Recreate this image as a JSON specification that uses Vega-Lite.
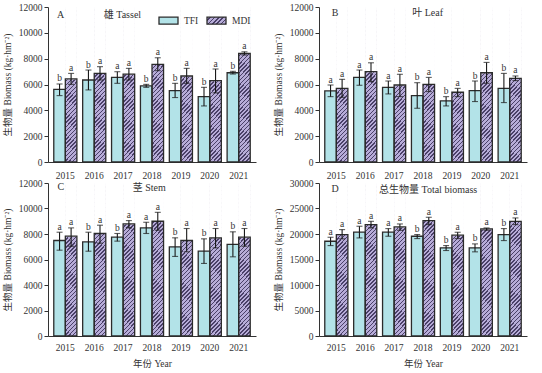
{
"$schema":"https://vega.github.io/schema/vega-lite/v6.json",
"background":"white",
"padding":{"left":2,"top":2,"right":2,"bottom":2},
"params":[
{"name":"hatch","value":{"gradient":"linear","x1":0,"y1":0,"x2":0.0861,"y2":1.0733,"stops":[
{"offset":0,"color":"#b7acd8"},{"offset":0.016,"color":"#b7acd8"},{"offset":0.016,"color":"#4a4068"},{"offset":0.025,"color":"#4a4068"},
{"offset":0.025,"color":"#b7acd8"},{"offset":0.041,"color":"#b7acd8"},{"offset":0.041,"color":"#4a4068"},{"offset":0.05,"color":"#4a4068"},
{"offset":0.05,"color":"#b7acd8"},{"offset":0.066,"color":"#b7acd8"},{"offset":0.066,"color":"#4a4068"},{"offset":0.075,"color":"#4a4068"},
{"offset":0.075,"color":"#b7acd8"},{"offset":0.091,"color":"#b7acd8"},{"offset":0.091,"color":"#4a4068"},{"offset":0.1,"color":"#4a4068"},
{"offset":0.1,"color":"#b7acd8"},{"offset":0.116,"color":"#b7acd8"},{"offset":0.116,"color":"#4a4068"},{"offset":0.125,"color":"#4a4068"},
{"offset":0.125,"color":"#b7acd8"},{"offset":0.141,"color":"#b7acd8"},{"offset":0.141,"color":"#4a4068"},{"offset":0.15,"color":"#4a4068"},
{"offset":0.15,"color":"#b7acd8"},{"offset":0.166,"color":"#b7acd8"},{"offset":0.166,"color":"#4a4068"},{"offset":0.175,"color":"#4a4068"},
{"offset":0.175,"color":"#b7acd8"},{"offset":0.191,"color":"#b7acd8"},{"offset":0.191,"color":"#4a4068"},{"offset":0.2,"color":"#4a4068"},
{"offset":0.2,"color":"#b7acd8"},{"offset":0.216,"color":"#b7acd8"},{"offset":0.216,"color":"#4a4068"},{"offset":0.225,"color":"#4a4068"},
{"offset":0.225,"color":"#b7acd8"},{"offset":0.241,"color":"#b7acd8"},{"offset":0.241,"color":"#4a4068"},{"offset":0.25,"color":"#4a4068"},
{"offset":0.25,"color":"#b7acd8"},{"offset":0.266,"color":"#b7acd8"},{"offset":0.266,"color":"#4a4068"},{"offset":0.275,"color":"#4a4068"},
{"offset":0.275,"color":"#b7acd8"},{"offset":0.291,"color":"#b7acd8"},{"offset":0.291,"color":"#4a4068"},{"offset":0.3,"color":"#4a4068"},
{"offset":0.3,"color":"#b7acd8"},{"offset":0.316,"color":"#b7acd8"},{"offset":0.316,"color":"#4a4068"},{"offset":0.325,"color":"#4a4068"},
{"offset":0.325,"color":"#b7acd8"},{"offset":0.341,"color":"#b7acd8"},{"offset":0.341,"color":"#4a4068"},{"offset":0.35,"color":"#4a4068"},
{"offset":0.35,"color":"#b7acd8"},{"offset":0.366,"color":"#b7acd8"},{"offset":0.366,"color":"#4a4068"},{"offset":0.375,"color":"#4a4068"},
{"offset":0.375,"color":"#b7acd8"},{"offset":0.391,"color":"#b7acd8"},{"offset":0.391,"color":"#4a4068"},{"offset":0.4,"color":"#4a4068"},
{"offset":0.4,"color":"#b7acd8"},{"offset":0.416,"color":"#b7acd8"},{"offset":0.416,"color":"#4a4068"},{"offset":0.425,"color":"#4a4068"},
{"offset":0.425,"color":"#b7acd8"},{"offset":0.441,"color":"#b7acd8"},{"offset":0.441,"color":"#4a4068"},{"offset":0.45,"color":"#4a4068"},
{"offset":0.45,"color":"#b7acd8"},{"offset":0.466,"color":"#b7acd8"},{"offset":0.466,"color":"#4a4068"},{"offset":0.475,"color":"#4a4068"},
{"offset":0.475,"color":"#b7acd8"},{"offset":0.491,"color":"#b7acd8"},{"offset":0.491,"color":"#4a4068"},{"offset":0.5,"color":"#4a4068"},
{"offset":0.5,"color":"#b7acd8"},{"offset":0.516,"color":"#b7acd8"},{"offset":0.516,"color":"#4a4068"},{"offset":0.525,"color":"#4a4068"},
{"offset":0.525,"color":"#b7acd8"},{"offset":0.541,"color":"#b7acd8"},{"offset":0.541,"color":"#4a4068"},{"offset":0.55,"color":"#4a4068"},
{"offset":0.55,"color":"#b7acd8"},{"offset":0.566,"color":"#b7acd8"},{"offset":0.566,"color":"#4a4068"},{"offset":0.575,"color":"#4a4068"},
{"offset":0.575,"color":"#b7acd8"},{"offset":0.591,"color":"#b7acd8"},{"offset":0.591,"color":"#4a4068"},{"offset":0.6,"color":"#4a4068"},
{"offset":0.6,"color":"#b7acd8"},{"offset":0.616,"color":"#b7acd8"},{"offset":0.616,"color":"#4a4068"},{"offset":0.625,"color":"#4a4068"},
{"offset":0.625,"color":"#b7acd8"},{"offset":0.641,"color":"#b7acd8"},{"offset":0.641,"color":"#4a4068"},{"offset":0.65,"color":"#4a4068"},
{"offset":0.65,"color":"#b7acd8"},{"offset":0.666,"color":"#b7acd8"},{"offset":0.666,"color":"#4a4068"},{"offset":0.675,"color":"#4a4068"},
{"offset":0.675,"color":"#b7acd8"},{"offset":0.691,"color":"#b7acd8"},{"offset":0.691,"color":"#4a4068"},{"offset":0.7,"color":"#4a4068"},
{"offset":0.7,"color":"#b7acd8"},{"offset":0.716,"color":"#b7acd8"},{"offset":0.716,"color":"#4a4068"},{"offset":0.725,"color":"#4a4068"},
{"offset":0.725,"color":"#b7acd8"},{"offset":0.741,"color":"#b7acd8"},{"offset":0.741,"color":"#4a4068"},{"offset":0.75,"color":"#4a4068"},
{"offset":0.75,"color":"#b7acd8"},{"offset":0.766,"color":"#b7acd8"},{"offset":0.766,"color":"#4a4068"},{"offset":0.775,"color":"#4a4068"},
{"offset":0.775,"color":"#b7acd8"},{"offset":0.791,"color":"#b7acd8"},{"offset":0.791,"color":"#4a4068"},{"offset":0.8,"color":"#4a4068"},
{"offset":0.8,"color":"#b7acd8"},{"offset":0.816,"color":"#b7acd8"},{"offset":0.816,"color":"#4a4068"},{"offset":0.825,"color":"#4a4068"},
{"offset":0.825,"color":"#b7acd8"},{"offset":0.841,"color":"#b7acd8"},{"offset":0.841,"color":"#4a4068"},{"offset":0.85,"color":"#4a4068"},
{"offset":0.85,"color":"#b7acd8"},{"offset":0.866,"color":"#b7acd8"},{"offset":0.866,"color":"#4a4068"},{"offset":0.875,"color":"#4a4068"},
{"offset":0.875,"color":"#b7acd8"},{"offset":0.891,"color":"#b7acd8"},{"offset":0.891,"color":"#4a4068"},{"offset":0.9,"color":"#4a4068"},
{"offset":0.9,"color":"#b7acd8"},{"offset":0.916,"color":"#b7acd8"},{"offset":0.916,"color":"#4a4068"},{"offset":0.925,"color":"#4a4068"},
{"offset":0.925,"color":"#b7acd8"},{"offset":0.941,"color":"#b7acd8"},{"offset":0.941,"color":"#4a4068"},{"offset":0.95,"color":"#4a4068"},
{"offset":0.95,"color":"#b7acd8"},{"offset":0.966,"color":"#b7acd8"},{"offset":0.966,"color":"#4a4068"},{"offset":0.975,"color":"#4a4068"},
{"offset":0.975,"color":"#b7acd8"},{"offset":0.991,"color":"#b7acd8"},{"offset":0.991,"color":"#4a4068"},{"offset":1,"color":"#4a4068"}
]}},
{"name":"hatchLeg","value":{"gradient":"linear","x1":0,"y1":0,"x2":1.2049,"y2":0.4439,"stops":[
{"offset":0,"color":"#b7acd8"},{"offset":0.1067,"color":"#b7acd8"},{"offset":0.1067,"color":"#4a4068"},{"offset":0.1667,"color":"#4a4068"},
{"offset":0.1667,"color":"#b7acd8"},{"offset":0.2733,"color":"#b7acd8"},{"offset":0.2733,"color":"#4a4068"},{"offset":0.3333,"color":"#4a4068"},
{"offset":0.3333,"color":"#b7acd8"},{"offset":0.44,"color":"#b7acd8"},{"offset":0.44,"color":"#4a4068"},{"offset":0.5,"color":"#4a4068"},
{"offset":0.5,"color":"#b7acd8"},{"offset":0.6067,"color":"#b7acd8"},{"offset":0.6067,"color":"#4a4068"},{"offset":0.6667,"color":"#4a4068"},
{"offset":0.6667,"color":"#b7acd8"},{"offset":0.7733,"color":"#b7acd8"},{"offset":0.7733,"color":"#4a4068"},{"offset":0.8333,"color":"#4a4068"},
{"offset":0.8333,"color":"#b7acd8"},{"offset":0.94,"color":"#b7acd8"},{"offset":0.94,"color":"#4a4068"},{"offset":1,"color":"#4a4068"}
]}}
],
"data":{"values":[
{"Part":"Tassel","Year":"2015","Group":"TFI","Value":5630,"Lo":5140,"Hi":6040,"Sig":"b"},
{"Part":"Tassel","Year":"2015","Group":"MDI","Value":6430,"Lo":6010,"Hi":6860,"Sig":"a"},
{"Part":"Tassel","Year":"2016","Group":"TFI","Value":6350,"Lo":5580,"Hi":7120,"Sig":"b"},
{"Part":"Tassel","Year":"2016","Group":"MDI","Value":6860,"Lo":6350,"Hi":7380,"Sig":"a"},
{"Part":"Tassel","Year":"2017","Group":"TFI","Value":6550,"Lo":6090,"Hi":6990,"Sig":"a"},
{"Part":"Tassel","Year":"2017","Group":"MDI","Value":6810,"Lo":6350,"Hi":7250,"Sig":"a"},
{"Part":"Tassel","Year":"2018","Group":"TFI","Value":5890,"Lo":5780,"Hi":6010,"Sig":"b"},
{"Part":"Tassel","Year":"2018","Group":"MDI","Value":7560,"Lo":7070,"Hi":8070,"Sig":"a"},
{"Part":"Tassel","Year":"2019","Group":"TFI","Value":5530,"Lo":4990,"Hi":6090,"Sig":"b"},
{"Part":"Tassel","Year":"2019","Group":"MDI","Value":6660,"Lo":6090,"Hi":7250,"Sig":"a"},
{"Part":"Tassel","Year":"2020","Group":"TFI","Value":5060,"Lo":4340,"Hi":5780,"Sig":"b"},
{"Part":"Tassel","Year":"2020","Group":"MDI","Value":6300,"Lo":5350,"Hi":7200,"Sig":"a"},
{"Part":"Tassel","Year":"2021","Group":"TFI","Value":6910,"Lo":6810,"Hi":7020,"Sig":"b"},
{"Part":"Tassel","Year":"2021","Group":"MDI","Value":8400,"Lo":8280,"Hi":8530,"Sig":"a"},
{"Part":"Leaf","Year":"2015","Group":"TFI","Value":5500,"Lo":5060,"Hi":5960,"Sig":"a"},
{"Part":"Leaf","Year":"2015","Group":"MDI","Value":5700,"Lo":5010,"Hi":6400,"Sig":"a"},
{"Part":"Leaf","Year":"2016","Group":"TFI","Value":6550,"Lo":5940,"Hi":7120,"Sig":"a"},
{"Part":"Leaf","Year":"2016","Group":"MDI","Value":6990,"Lo":6220,"Hi":7680,"Sig":"a"},
{"Part":"Leaf","Year":"2017","Group":"TFI","Value":5780,"Lo":5270,"Hi":6270,"Sig":"a"},
{"Part":"Leaf","Year":"2017","Group":"MDI","Value":5960,"Lo":5060,"Hi":6790,"Sig":"a"},
{"Part":"Leaf","Year":"2018","Group":"TFI","Value":5140,"Lo":4160,"Hi":6140,"Sig":"b"},
{"Part":"Leaf","Year":"2018","Group":"MDI","Value":6010,"Lo":5450,"Hi":6550,"Sig":"a"},
{"Part":"Leaf","Year":"2019","Group":"TFI","Value":4730,"Lo":4340,"Hi":5060,"Sig":"b"},
{"Part":"Leaf","Year":"2019","Group":"MDI","Value":5400,"Lo":5060,"Hi":5700,"Sig":"a"},
{"Part":"Leaf","Year":"2020","Group":"TFI","Value":5530,"Lo":4680,"Hi":6270,"Sig":"b"},
{"Part":"Leaf","Year":"2020","Group":"MDI","Value":6910,"Lo":6090,"Hi":7710,"Sig":"a"},
{"Part":"Leaf","Year":"2021","Group":"TFI","Value":5700,"Lo":4600,"Hi":6860,"Sig":"b"},
{"Part":"Leaf","Year":"2021","Group":"MDI","Value":6480,"Lo":6300,"Hi":6660,"Sig":"a"},
{"Part":"Stem","Year":"2015","Group":"TFI","Value":7490,"Lo":6730,"Hi":8140,"Sig":"a"},
{"Part":"Stem","Year":"2015","Group":"MDI","Value":7830,"Lo":7040,"Hi":8480,"Sig":"a"},
{"Part":"Stem","Year":"2016","Group":"TFI","Value":7380,"Lo":6650,"Hi":8140,"Sig":"b"},
{"Part":"Stem","Year":"2016","Group":"MDI","Value":8040,"Lo":7280,"Hi":8690,"Sig":"a"},
{"Part":"Stem","Year":"2017","Group":"TFI","Value":7750,"Lo":7440,"Hi":8040,"Sig":"b"},
{"Part":"Stem","Year":"2017","Group":"MDI","Value":8790,"Lo":8480,"Hi":9050,"Sig":"a"},
{"Part":"Stem","Year":"2018","Group":"TFI","Value":8480,"Lo":8040,"Hi":8920,"Sig":"a"},
{"Part":"Stem","Year":"2018","Group":"MDI","Value":9000,"Lo":8300,"Hi":9700,"Sig":"a"},
{"Part":"Stem","Year":"2019","Group":"TFI","Value":6990,"Lo":6240,"Hi":7700,"Sig":"b"},
{"Part":"Stem","Year":"2019","Group":"MDI","Value":7490,"Lo":6600,"Hi":8430,"Sig":"a"},
{"Part":"Stem","Year":"2020","Group":"TFI","Value":6650,"Lo":5690,"Hi":7620,"Sig":"b"},
{"Part":"Stem","Year":"2020","Group":"MDI","Value":7700,"Lo":6910,"Hi":8430,"Sig":"a"},
{"Part":"Stem","Year":"2021","Group":"TFI","Value":7180,"Lo":6210,"Hi":8170,"Sig":"b"},
{"Part":"Stem","Year":"2021","Group":"MDI","Value":7750,"Lo":7040,"Hi":8430,"Sig":"a"},
{"Part":"Total","Year":"2015","Group":"TFI","Value":18580,"Lo":17730,"Hi":19360,"Sig":"a"},
{"Part":"Total","Year":"2015","Group":"MDI","Value":19890,"Lo":19040,"Hi":20860,"Sig":"a"},
{"Part":"Total","Year":"2016","Group":"TFI","Value":20350,"Lo":19230,"Hi":21520,"Sig":"a"},
{"Part":"Total","Year":"2016","Group":"MDI","Value":21850,"Lo":21190,"Hi":22490,"Sig":"a"},
{"Part":"Total","Year":"2017","Group":"TFI","Value":20350,"Lo":19560,"Hi":21060,"Sig":"a"},
{"Part":"Total","Year":"2017","Group":"MDI","Value":21390,"Lo":20730,"Hi":21970,"Sig":"a"},
{"Part":"Total","Year":"2018","Group":"TFI","Value":19560,"Lo":19100,"Hi":19890,"Sig":"b"},
{"Part":"Total","Year":"2018","Group":"MDI","Value":22620,"Lo":21840,"Hi":23280,"Sig":"a"},
{"Part":"Total","Year":"2019","Group":"TFI","Value":17280,"Lo":16760,"Hi":17730,"Sig":"b"},
{"Part":"Total","Year":"2019","Group":"MDI","Value":19760,"Lo":19100,"Hi":20340,"Sig":"a"},
{"Part":"Total","Year":"2020","Group":"TFI","Value":17280,"Lo":16500,"Hi":18060,"Sig":"b"},
{"Part":"Total","Year":"2020","Group":"MDI","Value":20990,"Lo":20730,"Hi":21190,"Sig":"a"},
{"Part":"Total","Year":"2021","Group":"TFI","Value":19890,"Lo":18710,"Hi":21060,"Sig":"b"},
{"Part":"Total","Year":"2021","Group":"MDI","Value":22490,"Lo":21840,"Hi":23150,"Sig":"a"}
]},
"columns":2,
"spacing":{"row":-2,"column":17},
"resolve":{"scale":{"fill":"independent"},"legend":{"fill":"independent"}},
"concat":[
{"width":208,"height":155,
"transform":[{"filter":"datum.Part === 'Tassel'"}],
"layer":[
{"transform":[{"filter":"datum.Group === 'MDI'"}],"mark":{"type":"bar","fill":{"expr":"hatch"},"stroke":"transparent","strokeWidth":0},
"encoding":{"x":{"field":"Year","type":"nominal","axis":{"title":null,"labelAngle":0,"ticks":false,"labelPadding":8}},"xOffset":{"field":"Group","type":"nominal","scale":{"domain":["TFI","MDI"]}},"y":{"datum":12000,"type":"quantitative","scale":{"domain":[0,12000],"nice":false},"axis":{"title":"生物量 Biomass (kg·hm⁻²)","values":[0,2000,4000,6000,8000,10000,12000],"format":"d","tickSize":4,"labelPadding":2,"titlePadding":6}},"y2":{"datum":0}}},
{"transform":[{"filter":"datum.Group === 'MDI'"}],"mark":{"type":"bar","fill":"white","stroke":"white","strokeWidth":1},
"encoding":{"x":{"field":"Year","type":"nominal"},"xOffset":{"field":"Group","type":"nominal","scale":{"domain":["TFI","MDI"]}},"y":{"field":"Value","type":"quantitative","stack":null,"scale":{"domain":[0,12000],"nice":false}},"y2":{"datum":12000}}},
{"mark":{"type":"bar"},
"encoding":{"x":{"field":"Year","type":"nominal","axis":{"title":null,"labelAngle":0,"ticks":false,"labelPadding":8}},
"xOffset":{"field":"Group","type":"nominal","scale":{"domain":["TFI","MDI"]}},
"y":{"field":"Value","type":"quantitative","stack":null,"scale":{"domain":[0,12000],"nice":false},"axis":{"title":"生物量 Biomass (kg·hm⁻²)","values":[0,2000,4000,6000,8000,10000,12000],"format":"d","tickSize":4,"labelPadding":2,"titlePadding":6}},
"fill":{"condition":{"test":"datum.Group === 'MDI'","value":"rgba(0,0,0,0)"},"field":"Group","type":"nominal","scale":{"domain":["TFI","MDI"],"range":["#b3e3e8",{"expr":"hatchLeg"}]},
"legend":{"orient":"none","legendX":110,"legendY":3,"direction":"horizontal","title":null,"padding":0,"symbolType":"M-1,-0.37H1V0.37H-1Z","symbolSize":361,"symbolOpacity":1,"symbolStrokeColor":"#2b2b2b","symbolStrokeWidth":1.2,"labelFont":"Liberation Serif","labelFontSize":9.5,"labelColor":"#333","labelOffset":5,"columnPadding":5}}}},
{"mark":{"type":"rule"},"encoding":{"x":{"field":"Year","type":"nominal"},"xOffset":{"field":"Group","type":"nominal","scale":{"domain":["TFI","MDI"]}},"y":{"field":"Lo","type":"quantitative","scale":{"domain":[0,12000],"nice":false}},"y2":{"field":"Hi"}}},
{"mark":{"type":"tick","orient":"horizontal","size":6,"thickness":1.1},"encoding":{"x":{"field":"Year","type":"nominal"},"xOffset":{"field":"Group","type":"nominal","scale":{"domain":["TFI","MDI"]}},"y":{"field":"Lo","type":"quantitative","scale":{"domain":[0,12000],"nice":false}}}},
{"mark":{"type":"tick","orient":"horizontal","size":6,"thickness":1.1},"encoding":{"x":{"field":"Year","type":"nominal"},"xOffset":{"field":"Group","type":"nominal","scale":{"domain":["TFI","MDI"]}},"y":{"field":"Hi","type":"quantitative","scale":{"domain":[0,12000],"nice":false}}}},
{"mark":{"type":"text","baseline":"alphabetic","dy":-2.5},"encoding":{"x":{"field":"Year","type":"nominal"},"xOffset":{"field":"Group","type":"nominal","scale":{"domain":["TFI","MDI"]}},"y":{"field":"Hi","type":"quantitative","scale":{"domain":[0,12000],"nice":false}},"text":{"field":"Sig"}}},
{"transform":[{"filter":"datum.Year === '2015' && datum.Group === 'TFI'"}],"mark":{"type":"text","text":"A","fontSize":10,"baseline":"middle"},"encoding":{"x":{"datum":"2015","bandPosition":0.3},"y":{"datum":11380,"type":"quantitative"}}},
{"transform":[{"filter":"datum.Year === '2015' && datum.Group === 'TFI'"}],"mark":{"type":"text","text":"雄 Tassel","fontSize":10,"baseline":"middle"},"encoding":{"x":{"datum":"2017","bandPosition":0.47},"y":{"datum":11380,"type":"quantitative"}}}
]},
{"width":208,"height":155,
"transform":[{"filter":"datum.Part === 'Leaf'"}],
"layer":[
{"transform":[{"filter":"datum.Group === 'MDI'"}],"mark":{"type":"bar","fill":{"expr":"hatch"},"stroke":"transparent","strokeWidth":0},
"encoding":{"x":{"field":"Year","type":"nominal","axis":{"title":null,"labelAngle":0,"ticks":false,"labelPadding":8}},"xOffset":{"field":"Group","type":"nominal","scale":{"domain":["TFI","MDI"]}},"y":{"datum":12000,"type":"quantitative","scale":{"domain":[0,12000],"nice":false},"axis":{"title":"生物量 Biomass (kg·hm⁻²)","values":[0,2000,4000,6000,8000,10000,12000],"format":"d","tickSize":4,"labelPadding":2,"titlePadding":6}},"y2":{"datum":0}}},
{"transform":[{"filter":"datum.Group === 'MDI'"}],"mark":{"type":"bar","fill":"white","stroke":"white","strokeWidth":1},
"encoding":{"x":{"field":"Year","type":"nominal"},"xOffset":{"field":"Group","type":"nominal","scale":{"domain":["TFI","MDI"]}},"y":{"field":"Value","type":"quantitative","stack":null,"scale":{"domain":[0,12000],"nice":false}},"y2":{"datum":12000}}},
{"mark":{"type":"bar"},
"encoding":{"x":{"field":"Year","type":"nominal","axis":{"title":null,"labelAngle":0,"ticks":false,"labelPadding":8}},
"xOffset":{"field":"Group","type":"nominal","scale":{"domain":["TFI","MDI"]}},
"y":{"field":"Value","type":"quantitative","stack":null,"scale":{"domain":[0,12000],"nice":false},"axis":{"title":"生物量 Biomass (kg·hm⁻²)","values":[0,2000,4000,6000,8000,10000,12000],"format":"d","tickSize":4,"labelPadding":2,"titlePadding":6}},
"fill":{"condition":{"test":"datum.Group === 'MDI'","value":"rgba(0,0,0,0)"},"field":"Group","type":"nominal","scale":{"domain":["TFI","MDI"],"range":["#b3e3e8","#b7acd8"]},"legend":null}}},
{"mark":{"type":"rule"},"encoding":{"x":{"field":"Year","type":"nominal"},"xOffset":{"field":"Group","type":"nominal","scale":{"domain":["TFI","MDI"]}},"y":{"field":"Lo","type":"quantitative","scale":{"domain":[0,12000],"nice":false}},"y2":{"field":"Hi"}}},
{"mark":{"type":"tick","orient":"horizontal","size":6,"thickness":1.1},"encoding":{"x":{"field":"Year","type":"nominal"},"xOffset":{"field":"Group","type":"nominal","scale":{"domain":["TFI","MDI"]}},"y":{"field":"Lo","type":"quantitative","scale":{"domain":[0,12000],"nice":false}}}},
{"mark":{"type":"tick","orient":"horizontal","size":6,"thickness":1.1},"encoding":{"x":{"field":"Year","type":"nominal"},"xOffset":{"field":"Group","type":"nominal","scale":{"domain":["TFI","MDI"]}},"y":{"field":"Hi","type":"quantitative","scale":{"domain":[0,12000],"nice":false}}}},
{"mark":{"type":"text","baseline":"alphabetic","dy":-2.5},"encoding":{"x":{"field":"Year","type":"nominal"},"xOffset":{"field":"Group","type":"nominal","scale":{"domain":["TFI","MDI"]}},"y":{"field":"Hi","type":"quantitative","scale":{"domain":[0,12000],"nice":false}},"text":{"field":"Sig"}}},
{"transform":[{"filter":"datum.Year === '2015' && datum.Group === 'TFI'"}],"mark":{"type":"text","text":"B","fontSize":10,"baseline":"middle"},"encoding":{"x":{"datum":"2015","bandPosition":0.45},"y":{"datum":11510,"type":"quantitative"}}},
{"transform":[{"filter":"datum.Year === '2015' && datum.Group === 'TFI'"}],"mark":{"type":"text","text":"叶 Leaf","fontSize":10,"baseline":"middle"},"encoding":{"x":{"datum":"2018","bandPosition":0.7},"y":{"datum":11510,"type":"quantitative"}}}
]},
{"width":208,"height":153,
"transform":[{"filter":"datum.Part === 'Stem'"}],
"layer":[
{"transform":[{"filter":"datum.Group === 'MDI'"}],"mark":{"type":"bar","fill":{"expr":"hatch"},"stroke":"transparent","strokeWidth":0},
"encoding":{"x":{"field":"Year","type":"nominal","axis":{"title":"年份 Year","labelAngle":0,"ticks":false,"labelPadding":6,"titlePadding":7}},"xOffset":{"field":"Group","type":"nominal","scale":{"domain":["TFI","MDI"]}},"y":{"datum":12000,"type":"quantitative","scale":{"domain":[0,12000],"nice":false},"axis":{"title":"生物量 Biomass (kg·hm⁻²)","values":[0,2000,4000,6000,8000,10000,12000],"format":"d","tickSize":4,"labelPadding":2,"titlePadding":6}},"y2":{"datum":0}}},
{"transform":[{"filter":"datum.Group === 'MDI'"}],"mark":{"type":"bar","fill":"white","stroke":"white","strokeWidth":1},
"encoding":{"x":{"field":"Year","type":"nominal"},"xOffset":{"field":"Group","type":"nominal","scale":{"domain":["TFI","MDI"]}},"y":{"field":"Value","type":"quantitative","stack":null,"scale":{"domain":[0,12000],"nice":false}},"y2":{"datum":12000}}},
{"mark":{"type":"bar"},
"encoding":{"x":{"field":"Year","type":"nominal","axis":{"title":"年份 Year","labelAngle":0,"ticks":false,"labelPadding":6,"titlePadding":7}},
"xOffset":{"field":"Group","type":"nominal","scale":{"domain":["TFI","MDI"]}},
"y":{"field":"Value","type":"quantitative","stack":null,"scale":{"domain":[0,12000],"nice":false},"axis":{"title":"生物量 Biomass (kg·hm⁻²)","values":[0,2000,4000,6000,8000,10000,12000],"format":"d","tickSize":4,"labelPadding":2,"titlePadding":6}},
"fill":{"condition":{"test":"datum.Group === 'MDI'","value":"rgba(0,0,0,0)"},"field":"Group","type":"nominal","scale":{"domain":["TFI","MDI"],"range":["#b3e3e8","#b7acd8"]},"legend":null}}},
{"mark":{"type":"rule"},"encoding":{"x":{"field":"Year","type":"nominal"},"xOffset":{"field":"Group","type":"nominal","scale":{"domain":["TFI","MDI"]}},"y":{"field":"Lo","type":"quantitative","scale":{"domain":[0,12000],"nice":false}},"y2":{"field":"Hi"}}},
{"mark":{"type":"tick","orient":"horizontal","size":6,"thickness":1.1},"encoding":{"x":{"field":"Year","type":"nominal"},"xOffset":{"field":"Group","type":"nominal","scale":{"domain":["TFI","MDI"]}},"y":{"field":"Lo","type":"quantitative","scale":{"domain":[0,12000],"nice":false}}}},
{"mark":{"type":"tick","orient":"horizontal","size":6,"thickness":1.1},"encoding":{"x":{"field":"Year","type":"nominal"},"xOffset":{"field":"Group","type":"nominal","scale":{"domain":["TFI","MDI"]}},"y":{"field":"Hi","type":"quantitative","scale":{"domain":[0,12000],"nice":false}}}},
{"mark":{"type":"text","baseline":"alphabetic","dy":-2.5},"encoding":{"x":{"field":"Year","type":"nominal"},"xOffset":{"field":"Group","type":"nominal","scale":{"domain":["TFI","MDI"]}},"y":{"field":"Hi","type":"quantitative","scale":{"domain":[0,12000],"nice":false}},"text":{"field":"Sig"}}},
{"transform":[{"filter":"datum.Year === '2015' && datum.Group === 'TFI'"}],"mark":{"type":"text","text":"C","fontSize":10,"baseline":"middle"},"encoding":{"x":{"datum":"2015","bandPosition":0.31},"y":{"datum":11660,"type":"quantitative"}}},
{"transform":[{"filter":"datum.Year === '2015' && datum.Group === 'TFI'"}],"mark":{"type":"text","text":"茎 Stem","fontSize":10,"baseline":"middle"},"encoding":{"x":{"datum":"2018","bandPosition":0.38},"y":{"datum":11610,"type":"quantitative"}}}
]},
{"width":208,"height":153,
"transform":[{"filter":"datum.Part === 'Total'"}],
"layer":[
{"transform":[{"filter":"datum.Group === 'MDI'"}],"mark":{"type":"bar","fill":{"expr":"hatch"},"stroke":"transparent","strokeWidth":0},
"encoding":{"x":{"field":"Year","type":"nominal","axis":{"title":"年份 Year","labelAngle":0,"ticks":false,"labelPadding":6,"titlePadding":7}},"xOffset":{"field":"Group","type":"nominal","scale":{"domain":["TFI","MDI"]}},"y":{"datum":30000,"type":"quantitative","scale":{"domain":[0,30000],"nice":false},"axis":{"title":"生物量 Biomass (kg·hm⁻²)","values":[0,5000,10000,15000,20000,25000,30000],"format":"d","tickSize":4,"labelPadding":2,"titlePadding":6}},"y2":{"datum":0}}},
{"transform":[{"filter":"datum.Group === 'MDI'"}],"mark":{"type":"bar","fill":"white","stroke":"white","strokeWidth":1},
"encoding":{"x":{"field":"Year","type":"nominal"},"xOffset":{"field":"Group","type":"nominal","scale":{"domain":["TFI","MDI"]}},"y":{"field":"Value","type":"quantitative","stack":null,"scale":{"domain":[0,30000],"nice":false}},"y2":{"datum":30000}}},
{"mark":{"type":"bar"},
"encoding":{"x":{"field":"Year","type":"nominal","axis":{"title":"年份 Year","labelAngle":0,"ticks":false,"labelPadding":6,"titlePadding":7}},
"xOffset":{"field":"Group","type":"nominal","scale":{"domain":["TFI","MDI"]}},
"y":{"field":"Value","type":"quantitative","stack":null,"scale":{"domain":[0,30000],"nice":false},"axis":{"title":"生物量 Biomass (kg·hm⁻²)","values":[0,5000,10000,15000,20000,25000,30000],"format":"d","tickSize":4,"labelPadding":2,"titlePadding":6}},
"fill":{"condition":{"test":"datum.Group === 'MDI'","value":"rgba(0,0,0,0)"},"field":"Group","type":"nominal","scale":{"domain":["TFI","MDI"],"range":["#b3e3e8","#b7acd8"]},"legend":null}}},
{"mark":{"type":"rule"},"encoding":{"x":{"field":"Year","type":"nominal"},"xOffset":{"field":"Group","type":"nominal","scale":{"domain":["TFI","MDI"]}},"y":{"field":"Lo","type":"quantitative","scale":{"domain":[0,30000],"nice":false}},"y2":{"field":"Hi"}}},
{"mark":{"type":"tick","orient":"horizontal","size":6,"thickness":1.1},"encoding":{"x":{"field":"Year","type":"nominal"},"xOffset":{"field":"Group","type":"nominal","scale":{"domain":["TFI","MDI"]}},"y":{"field":"Lo","type":"quantitative","scale":{"domain":[0,30000],"nice":false}}}},
{"mark":{"type":"tick","orient":"horizontal","size":6,"thickness":1.1},"encoding":{"x":{"field":"Year","type":"nominal"},"xOffset":{"field":"Group","type":"nominal","scale":{"domain":["TFI","MDI"]}},"y":{"field":"Hi","type":"quantitative","scale":{"domain":[0,30000],"nice":false}}}},
{"mark":{"type":"text","baseline":"alphabetic","dy":-2.5},"encoding":{"x":{"field":"Year","type":"nominal"},"xOffset":{"field":"Group","type":"nominal","scale":{"domain":["TFI","MDI"]}},"y":{"field":"Hi","type":"quantitative","scale":{"domain":[0,30000],"nice":false}},"text":{"field":"Sig"}}},
{"transform":[{"filter":"datum.Year === '2015' && datum.Group === 'TFI'"}],"mark":{"type":"text","text":"D","fontSize":10,"baseline":"middle"},"encoding":{"x":{"datum":"2015","bandPosition":0.45},"y":{"datum":28820,"type":"quantitative"}}},
{"transform":[{"filter":"datum.Year === '2015' && datum.Group === 'TFI'"}],"mark":{"type":"text","text":"总生物量 Total biomass","fontSize":10,"baseline":"middle"},"encoding":{"x":{"datum":"2018","bandPosition":0.72},"y":{"datum":28690,"type":"quantitative"}}}
]}
],
"config":{
"font":"Liberation Serif, Noto Sans CJK SC",
"view":{"stroke":null},
"scale":{"bandPaddingInner":0.18,"bandPaddingOuter":0.02,"offsetBandPaddingInner":0,"offsetBandPaddingOuter":0},
"axis":{"labelFont":"Liberation Serif","labelFontSize":9.5,"labelColor":"#333","titleFont":"Liberation Serif, Noto Sans CJK SC","titleFontSize":9.5,"titleFontWeight":"normal","titleColor":"#333","domainColor":"#333","tickColor":"#333","grid":false},
"axisY":{"labelOverlap":false,"tickCount":7},
"bar":{"stroke":"#2b2b2b","strokeWidth":1.3},
"rule":{"color":"#1a1a1a","strokeWidth":1.1},
"tick":{"color":"#1a1a1a"},
"text":{"font":"Liberation Serif, Noto Sans CJK SC","fontSize":9.5,"color":"#333"}
}
}
